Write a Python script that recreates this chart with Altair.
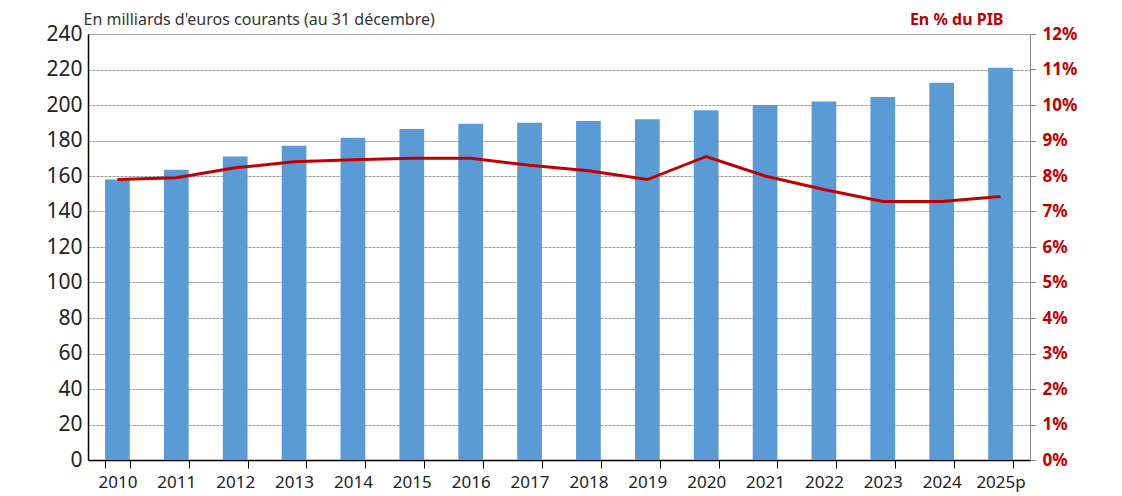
import altair as alt
import pandas as pd

years = ["2010", "2011", "2012", "2013", "2014", "2015", "2016", "2017",
         "2018", "2019", "2020", "2021", "2022", "2023", "2024", "2025p"]
amounts = [158, 163.5, 171, 177, 181.5, 186.5, 189.5, 190, 191, 192,
           197, 200, 202, 204.5, 212.5, 221]
pct_gdp = [7.9, 7.95, 8.23, 8.4, 8.46, 8.5, 8.5, 8.3, 8.15, 7.9,
           8.55, 8.0, 7.62, 7.28, 7.28, 7.42]

df = pd.DataFrame({"year": years, "amount": amounts, "pct": [p / 100 for p in pct_gdp]})

FONT = "Noto Sans"
W, H = 942, 426

x_enc = alt.X("year:N", sort=years, scale=alt.Scale(paddingInner=0.58, paddingOuter=0.29),
              axis=alt.Axis(title=None, labelAngle=0, labelFontSize=17, labelColor="#222",
                            labelFont=FONT, domainColor="#000", domainWidth=1.5,
                            tickColor="#000", tickSize=8, tickBand="extent",
                            labelPadding=6, grid=False))

bars = alt.Chart(df).mark_bar(color="#5B9BD5").encode(
    x=x_enc,
    y=alt.Y("amount:Q", scale=alt.Scale(domain=[0, 240], nice=False),
            axis=alt.Axis(values=list(range(0, 241, 20)), orient="left",
                          title="En milliards d'euros courants (au 31 décembre)",
                          titleAngle=0, titleX=-5, titleY=-7, titleAlign="left",
                          titleBaseline="bottom", titleFont=FONT, titleFontSize=16,
                          titleFontWeight="normal", titleColor="#333",
                          labelFont=FONT, labelFontSize=21, labelColor="#222",
                          labelPadding=6, domainColor="#000", domainWidth=1.5,
                          ticks=False, grid=True, gridColor="#9a9a9a",
                          gridDash=[3, 1], gridWidth=1))
)

line = alt.Chart(df).mark_line(color="#C00000", strokeWidth=3).encode(
    x=alt.X("year:N", sort=years),
    y=alt.Y("pct:Q", scale=alt.Scale(domain=[0, 0.12], nice=False),
            axis=alt.Axis(values=[i / 100 for i in range(0, 13)], format=".0%",
                          orient="right", title="En % du PIB",
                          titleAngle=0, titleX=-27, titleY=-7, titleAlign="right",
                          titleBaseline="bottom", titleFont=FONT, titleFontSize=16,
                          titleFontWeight="bold", titleColor="#C00000",
                          labelFont=FONT, labelFontSize=17, labelFontWeight="bold",
                          labelColor="#C00000", labelPadding=6,
                          domainColor="#888", tickColor="#888", tickSize=6,
                          grid=False))
)

chart = alt.layer(bars, line).resolve_scale(y="independent").properties(
    width=W, height=H,
    autosize=alt.AutoSizeParams(type="none"),
    padding={"left": 80, "top": 26, "right": 80, "bottom": 36},
).configure_view(stroke=None).configure(background="white")

chart.save("out.html", embed_options={"renderer": "svg", "actions": False})
